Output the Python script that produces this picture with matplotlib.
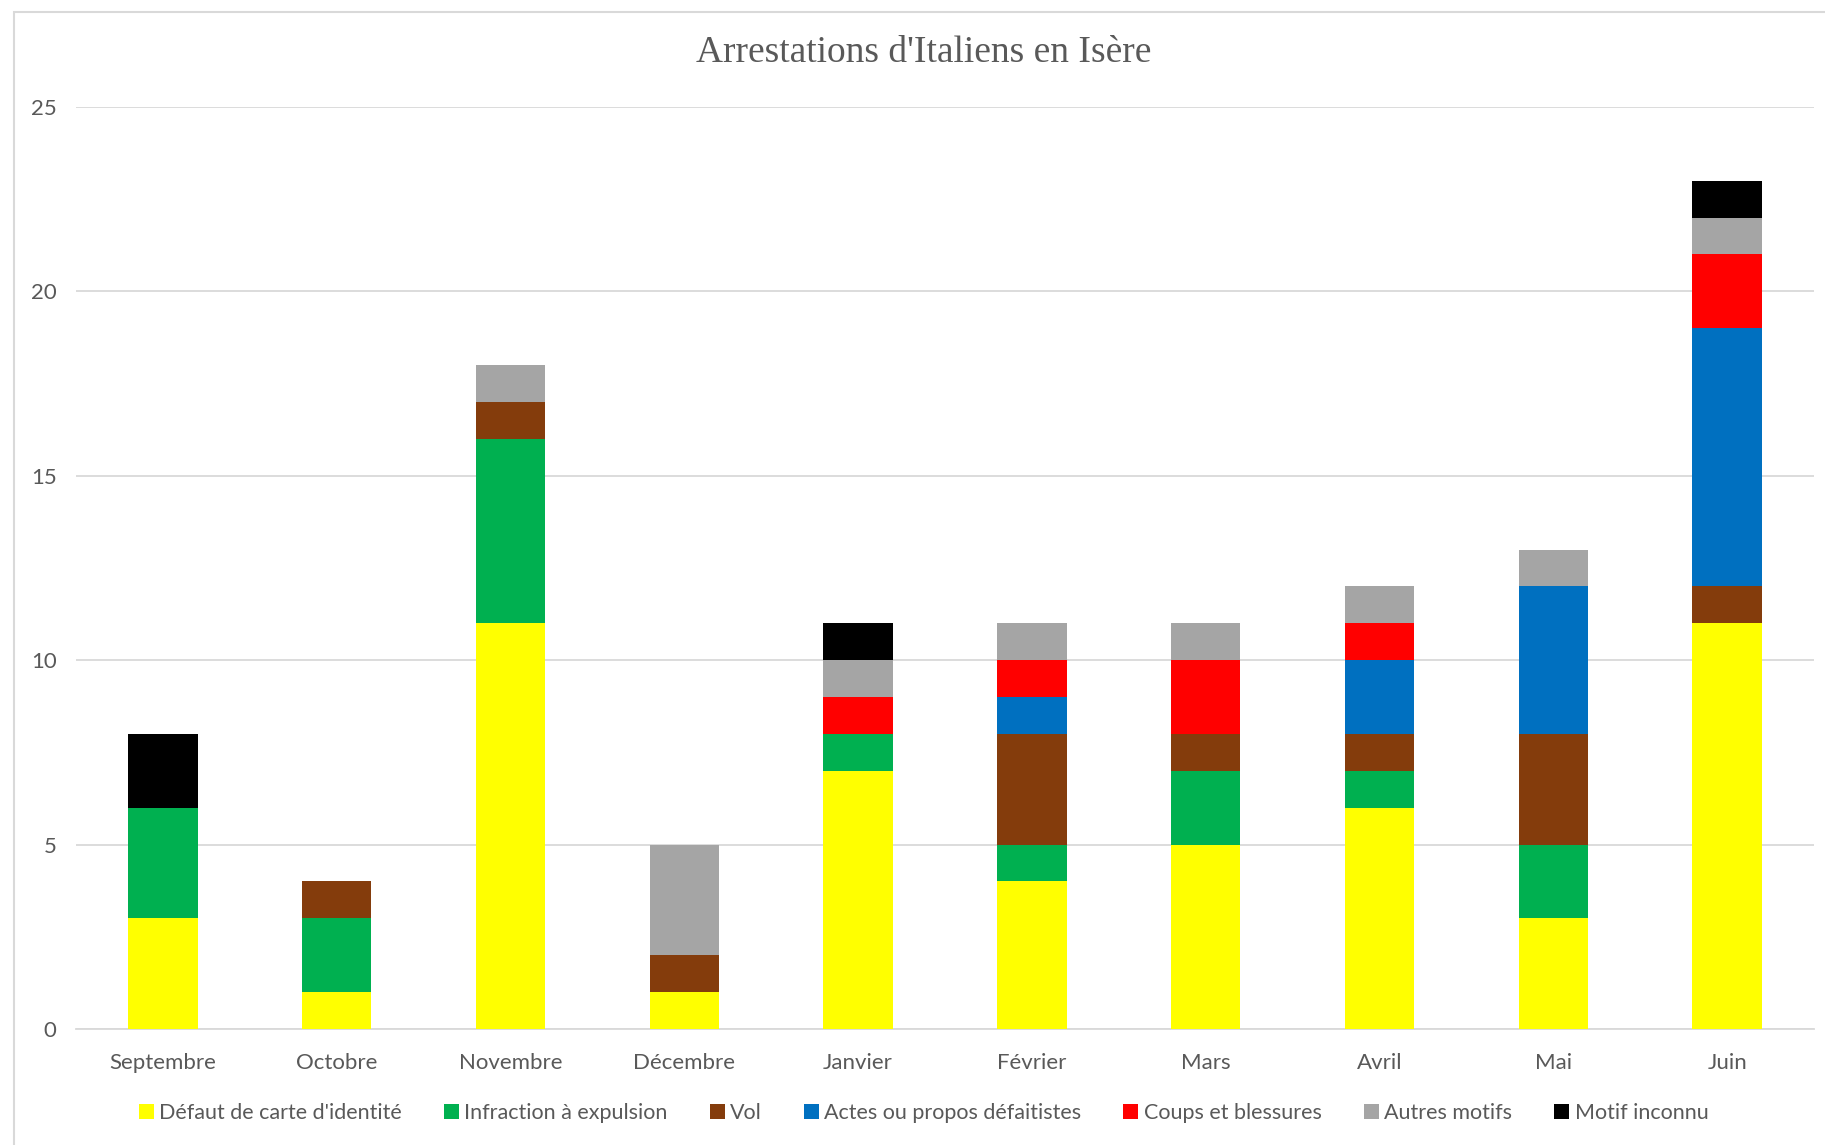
import matplotlib.pyplot as plt
from matplotlib.patches import Rectangle
import numpy as np

mois = ['Septembre', 'Octobre', 'Novembre', 'Décembre', 'Janvier',
        'Février', 'Mars', 'Avril', 'Mai', 'Juin']

defaut_carte = [3, 1, 11, 1, 7, 4, 5, 6, 3, 11]
infraction_expulsion = [3, 2, 5, 0, 1, 1, 2, 1, 2, 0]
vol = [0, 1, 1, 1, 0, 3, 1, 1, 3, 1]
defaitistes = [0, 0, 0, 0, 0, 1, 0, 2, 4, 7]
coups = [0, 0, 0, 0, 1, 1, 2, 1, 0, 2]
autres = [0, 0, 1, 3, 1, 1, 1, 1, 1, 1]
inconnu = [2, 0, 0, 0, 1, 0, 0, 0, 0, 1]

series = [
    ("Défaut de carte d'identité", defaut_carte, '#FFFF00'),
    ("Infraction à expulsion", infraction_expulsion, '#00B050'),
    ("Vol", vol, '#843C0C'),
    ("Actes ou propos défaitistes", defaitistes, '#0070C0'),
    ("Coups et blessures", coups, '#FF0000'),
    ("Autres motifs", autres, '#A5A5A5'),
    ("Motif inconnu", inconnu, '#000000'),
]

plt.rcParams['font.family'] = ['Lato', 'DejaVu Sans']

fig = plt.figure(figsize=(18.25, 11.45), dpi=100)
ax = fig.add_axes([0.0416, 0.1013, 0.9524, 0.8053])

x = np.arange(len(mois))
bottom = np.zeros(len(mois))
for label, vals, col in series:
    ax.bar(x, vals, 0.4, bottom=bottom, color=col, label=label, zorder=3)
    bottom += np.array(vals)

ax.set_xlim(-0.5, len(mois) - 0.5)
ax.set_ylim(0, 25)
ax.set_yticks([0, 5, 10, 15, 20, 25])
ax.set_xticks(x)
ax.set_xticklabels(mois)
ax.grid(axis='y', color='#D9D9D9', linewidth=1.3, zorder=0)
for s in ['top', 'right', 'left']:
    ax.spines[s].set_visible(False)
ax.spines['bottom'].set_color('#D9D9D9')
ax.spines['bottom'].set_linewidth(1.3)
ax.tick_params(axis='both', length=0, labelsize=16, labelcolor='#595959')
ax.tick_params(axis='x', pad=17)
ax.tick_params(axis='y', pad=14)

fig.text(0.506, 0.954, "Arrestations d'Italiens en Isère", ha='center', va='center',
         family='Liberation Serif', fontsize=27, color='#595959')

fig.legend(loc='center', bbox_to_anchor=(0.506, 0.028), ncol=7, frameon=False,
           fontsize=15.5, handlelength=0.7, handleheight=0.7, handletextpad=0.25,
           columnspacing=1.95, labelcolor='#595959')

fig.patches.append(Rectangle((0.0077, -0.01), 1.2, 0.9995, transform=fig.transFigure,
                             fill=False, edgecolor='#D9D9D9', linewidth=1.5))

fig.savefig('out.png', dpi=100)
